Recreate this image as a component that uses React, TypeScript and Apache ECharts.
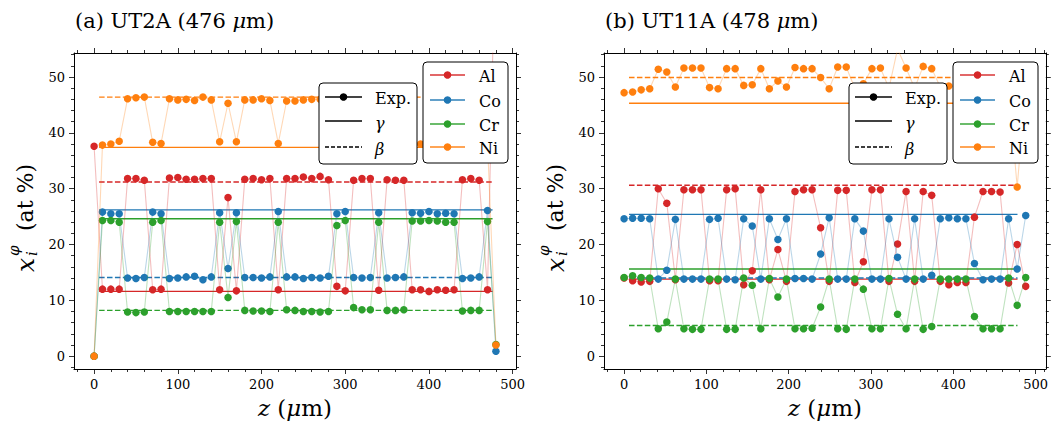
import React, { useEffect, useRef } from "react";
import * as echarts from "echarts";

// ---------- data ----------
const zLeft = [0, 10, 20, 30, 40, 50, 60, 70, 80, 90, 100, 110, 120, 130, 140, 150, 160, 170, 180, 190, 200, 210, 220, 230, 240, 250, 260, 270, 280, 290, 300, 310, 320, 330, 340, 350, 360, 370, 380, 390, 400, 410, 420, 430, 440, 450, 460, 470, 480];
const alLeft = [37.6, 12.0, 12.0, 12.0, 31.8, 31.8, 31.5, 11.9, 12.0, 31.9, 32.0, 31.7, 31.7, 31.8, 31.8, 11.9, 28.4, 11.7, 31.7, 31.8, 31.6, 31.8, 11.9, 31.8, 31.8, 32.1, 31.8, 32.2, 31.6, 12.5, 11.7, 31.5, 31.8, 31.8, 11.8, 31.6, 31.5, 31.5, 11.9, 11.9, 11.6, 11.9, 11.8, 11.9, 31.6, 31.8, 31.5, 11.9, 80.0];
const coLeft = [0.0, 25.8, 25.5, 25.5, 14.0, 13.9, 14.1, 25.8, 25.5, 13.9, 14.0, 14.2, 14.3, 13.7, 14.2, 25.7, 15.7, 25.7, 14.1, 14.1, 14.0, 14.2, 25.9, 14.2, 14.2, 13.9, 14.1, 14.0, 14.3, 25.5, 25.9, 14.1, 14.0, 14.1, 25.7, 14.0, 14.1, 14.2, 25.7, 25.6, 25.9, 25.5, 25.6, 25.5, 13.9, 14.0, 14.2, 26.1, 0.9];
const crLeft = [0.0, 24.3, 24.3, 24.0, 7.9, 7.8, 7.9, 24.0, 24.3, 8.0, 8.0, 8.0, 8.0, 8.0, 8.0, 24.0, 10.5, 24.1, 8.2, 8.1, 8.1, 8.0, 24.0, 8.3, 8.2, 8.0, 8.0, 7.9, 8.0, 23.4, 24.3, 8.7, 8.3, 8.3, 24.0, 8.2, 8.2, 8.3, 24.2, 24.2, 24.3, 24.2, 24.0, 24.0, 8.1, 8.2, 8.2, 24.1, 2.1];
const niLeft = [0.0, 37.8, 38.0, 38.5, 46.1, 46.3, 46.4, 38.3, 38.1, 46.1, 45.9, 46.0, 45.8, 46.4, 45.9, 38.4, 45.3, 38.4, 45.9, 45.9, 46.1, 45.8, 38.1, 45.7, 45.7, 45.9, 46.0, 46.0, 46.1, 38.2, 38.0, 46.0, 45.9, 46.1, 38.2, 46.0, 46.1, 45.9, 38.1, 38.0, 38.1, 37.9, 38.2, 38.1, 46.0, 46.1, 45.9, 38.0, 2.0];

const zRight = [0, 10.38, 20.77, 31.15, 41.53, 51.91, 62.3, 72.68, 83.06, 93.45, 103.83, 114.21, 124.6, 134.98, 145.36, 155.74, 166.13, 176.51, 186.89, 197.28, 207.66, 218.04, 228.43, 238.81, 249.19, 259.57, 269.96, 280.34, 290.72, 301.11, 311.49, 321.87, 332.26, 342.64, 353.02, 363.4, 373.79, 384.17, 394.55, 404.94, 415.32, 425.7, 436.09, 446.47, 456.85, 467.23, 477.62, 488.0];
const alRight = [14.0, 13.5, 13.3, 13.4, 30.0, 27.4, 13.7, 29.8, 29.8, 29.8, 13.5, 13.5, 29.8, 30.0, 12.8, 15.3, 29.8, 13.7, 19.1, 13.4, 29.5, 29.8, 29.8, 23.0, 13.4, 29.7, 29.7, 13.2, 16.9, 29.8, 29.8, 13.4, 20.1, 29.5, 13.4, 29.5, 28.8, 13.4, 12.8, 13.2, 13.2, 24.9, 29.5, 29.5, 29.4, 13.1, 20.0, 12.5];
const coRight = [24.6, 24.7, 24.7, 24.6, 13.8, 15.4, 24.5, 13.8, 13.8, 13.8, 24.5, 24.7, 13.8, 13.7, 24.6, 23.3, 13.8, 24.6, 20.9, 24.6, 13.9, 13.9, 13.8, 18.3, 24.8, 13.8, 13.8, 24.6, 22.4, 13.8, 13.8, 24.6, 17.7, 13.8, 24.6, 13.8, 14.5, 24.6, 24.8, 24.6, 24.6, 16.6, 13.7, 13.8, 13.8, 24.6, 15.6, 25.2];
const crRight = [14.1, 14.4, 14.1, 14.0, 4.9, 6.1, 13.8, 4.9, 4.8, 4.8, 13.8, 13.8, 4.8, 4.8, 14.0, 12.7, 4.9, 13.9, 10.6, 13.8, 4.9, 4.9, 5.0, 8.8, 13.8, 4.9, 4.8, 13.8, 12.0, 4.9, 4.9, 13.9, 7.5, 4.9, 13.8, 4.8, 5.3, 13.8, 13.8, 13.8, 13.8, 7.1, 4.9, 4.9, 4.9, 14.0, 9.1, 14.1];
const niRight = [47.2, 47.3, 47.7, 47.9, 51.4, 50.9, 48.2, 51.6, 51.6, 51.6, 48.1, 47.9, 51.5, 51.5, 48.5, 48.6, 51.5, 47.9, 49.3, 48.2, 51.7, 51.5, 51.5, 49.9, 47.9, 51.8, 51.8, 48.0, 48.8, 51.5, 51.6, 48.0, 55.0, 51.6, 48.0, 51.9, 51.5, 48.2, 48.4, 48.3, 48.1, 50.0, 51.5, 51.6, 51.4, 48.1, 30.3, 48.3];

// phase compositions [Al, Co, Cr, Ni]
const gammaLeft = [11.6, 26.2, 24.6, 37.4];
const betaLeft = [31.2, 14.1, 8.2, 46.4];
const gammaRight = [13.8, 25.4, 15.6, 45.3];
const betaRight = [30.6, 14.0, 5.5, 49.9];
const levelSpanLeft = [6, 476];
const levelSpanRight = [6, 478];

const elements = ["Al", "Co", "Cr", "Ni"];
const colors = ["#d62728", "#1f77b4", "#2ca02c", "#ff7f0e"];

const xMajorTicks = [0, 100, 200, 300, 400, 500];
const xMinorTicks = [-20, 20, 40, 60, 80, 120, 140, 160, 180, 220, 240, 260, 280, 320, 340, 360, 380, 420, 440, 460, 480, 510];
const yMajorTicks = [0, 10, 20, 30, 40, 50];
const yMinorTicks = [-2, 2, 4, 6, 8, 12, 14, 16, 18, 22, 24, 26, 28, 32, 34, 36, 38, 42, 44, 46, 48, 52, 54];

const titles = ["(a) UT2A (476 {m|μ}m)", "(b) UT11A (478 {m|μ}m)"];

const SERIF = "DejaVu Serif";

export default function App() {
  const ref = useRef<HTMLDivElement>(null);
  useEffect(() => {
    if (!ref.current) return;
    const chart = echarts.init(ref.current, null, { renderer: "svg" });

    const grids = [
      { left: 74, top: 53, width: 442, height: 316 },
      { left: 604, top: 53, width: 442, height: 316 },
    ];
    const xRanges = [[-24, 504], [-24.4, 512.4]];
    const yRange = [-2.3, 54.3];

    const xAxes: any[] = [];
    const yAxes: any[] = [];
    const line = { color: "#000", width: 1 };
    grids.forEach((_, g) => {
      const base = { type: "value", gridIndex: g, min: xRanges[g][0], max: xRanges[g][1], splitLine: { show: false } };
      const ybase = { type: "value", gridIndex: g, min: yRange[0], max: yRange[1], splitLine: { show: false } };
      const mk = (b: any, pos: string, major: boolean, labels: boolean, ticks: number[]) => ({
        ...b,
        position: pos,
        axisLine: { show: major, onZero: false, lineStyle: line },
        axisTick: { show: true, inside: false, length: major ? 5 : 3, customValues: ticks, lineStyle: { color: "#000", width: 0.8 } },
        axisLabel: labels
          ? { show: true, customValues: ticks, margin: 9, color: "#000", fontFamily: SERIF, fontSize: 13 }
          : { show: false },
      });
      xAxes.push(mk(base, "bottom", true, true, xMajorTicks));
      xAxes.push(mk(base, "bottom", false, false, xMinorTicks));
      xAxes.push(mk(base, "top", true, false, xMajorTicks));
      xAxes.push(mk(base, "top", false, false, xMinorTicks));
      yAxes.push(mk(ybase, "left", true, true, yMajorTicks));
      yAxes.push(mk(ybase, "left", false, false, yMinorTicks));
      yAxes.push(mk(ybase, "right", true, false, yMajorTicks));
      yAxes.push(mk(ybase, "right", false, false, yMinorTicks));
    });

    const series: any[] = [];
    const panels = [
      { z: zLeft, vals: [alLeft, coLeft, crLeft, niLeft], gamma: gammaLeft, beta: betaLeft, span: levelSpanLeft },
      { z: zRight, vals: [alRight, coRight, crRight, niRight], gamma: gammaRight, beta: betaRight, span: levelSpanRight },
    ];
    panels.forEach((p, g) => {
      const xi = g * 4;
      const yi = g * 4;
      elements.forEach((el, e) => {
        series.push({
          type: "line",
          xAxisIndex: xi,
          yAxisIndex: yi,
          data: [[p.span[0], p.gamma[e]], [p.span[1], p.gamma[e]]],
          symbol: "none",
          lineStyle: { color: colors[e], width: 1.4, type: "solid" },
          z: 2,
          silent: true,
        });
        series.push({
          type: "line",
          xAxisIndex: xi,
          yAxisIndex: yi,
          data: [[p.span[0], p.beta[e]], [p.span[1], p.beta[e]]],
          symbol: "none",
          lineStyle: { color: colors[e], width: 1.4, type: [5.5, 2.4] },
          z: 2,
          silent: true,
        });
      });
      elements.forEach((el, e) => {
        series.push({
          type: "line",
          name: el,
          xAxisIndex: xi,
          yAxisIndex: yi,
          data: p.z.map((x, k) => [x, p.vals[e][k]]),
          symbol: "circle",
          symbolSize: 7.5,
          showAllSymbol: true,
          clip: true,
          itemStyle: { color: colors[e], opacity: 1 },
          lineStyle: { color: colors[e], width: 1.1, opacity: 0.3 },
          z: 3 + e,
        });
      });
    });

    const graphics: any[] = [];
    const dx = [0, 530];
    [0, 1].forEach((g) => {
      const gx = grids[g].left;
      // title
      graphics.push({
        type: "text",
        x: gx + 1,
        y: 21,
        style: {
          text: titles[g],
          fill: "#000",
          font: `21px "${SERIF}"`,
          verticalAlign: "middle",
          align: "left",
          rich: { m: { fontStyle: "italic", fontFamily: SERIF, fontSize: 21 } },
        },
        z: 100,
      });
      // x label
      graphics.push({
        type: "text",
        x: gx + 221,
        y: 408,
        style: {
          text: "{m|z} ({m|μ}m)",
          fill: "#000",
          font: `23px "${SERIF}"`,
          align: "center",
          verticalAlign: "middle",
          rich: { m: { fontStyle: "italic", fontFamily: SERIF, fontSize: 23 } },
        },
        z: 100,
      });
      // y label pieces (rotated)
      const yx = gx - 49;
      graphics.push({
        type: "text", x: yx, y: 272, rotation: Math.PI / 2,
        style: { text: "x", fill: "#000", font: `italic 25px "${SERIF}"`, align: "left", verticalAlign: "middle" }, z: 100,
      });
      graphics.push({
        type: "text", x: yx - 11, y: 256, rotation: Math.PI / 2,
        style: { text: "φ", fill: "#000", font: `italic 15px "${SERIF}"`, align: "left", verticalAlign: "middle" }, z: 100,
      });
      graphics.push({
        type: "text", x: yx + 7, y: 256, rotation: Math.PI / 2,
        style: { text: "i", fill: "#000", font: `italic 15px "${SERIF}"`, align: "left", verticalAlign: "middle" }, z: 100,
      });
      graphics.push({
        type: "text", x: yx, y: 231, rotation: Math.PI / 2,
        style: { text: "(at %)", fill: "#000", font: `22px "${SERIF}"`, align: "left", verticalAlign: "middle" }, z: 100,
      });

      // legend 1
      const o = dx[g];
      graphics.push({
        type: "rect", shape: { x: 319 + o, y: 83, width: 98, height: 81, r: 4 },
        style: { fill: "#fff", stroke: "#000", lineWidth: 1 }, z: 100,
      });
      const rows1 = [97, 121, 147];
      graphics.push({ type: "line", shape: { x1: 325 + o, y1: rows1[0], x2: 362 + o, y2: rows1[0] }, style: { stroke: "#444", lineWidth: 2 }, z: 101 });
      graphics.push({ type: "circle", shape: { cx: 343.5 + o, cy: rows1[0], r: 3.8 }, style: { fill: "#000" }, z: 102 });
      graphics.push({ type: "line", shape: { x1: 325 + o, y1: rows1[1], x2: 362 + o, y2: rows1[1] }, style: { stroke: "#000", lineWidth: 1.3 }, z: 101 });
      graphics.push({ type: "line", shape: { x1: 325 + o, y1: rows1[2], x2: 362 + o, y2: rows1[2] }, style: { stroke: "#000", lineWidth: 1.3, lineDash: [4, 2] }, z: 101 });
      const lab1 = ["Exp.", "γ", "β"];
      lab1.forEach((t, k) => {
        graphics.push({
          type: "text", x: 375 + o, y: rows1[k] + (k === 0 ? 1 : 2),
          style: { text: t, fill: "#000", font: `${k === 0 ? "" : "italic "}16px "${SERIF}"`, align: "left", verticalAlign: "middle" }, z: 102,
        });
      });

      // legend 2
      graphics.push({
        type: "rect", shape: { x: 423 + o, y: 62, width: 85, height: 101, r: 4 },
        style: { fill: "#fff", stroke: "#000", lineWidth: 1 }, z: 100,
      });
      const rows2 = [75, 100, 124, 147];
      elements.forEach((el, k) => {
        graphics.push({ type: "line", shape: { x1: 430 + o, y1: rows2[k], x2: 465 + o, y2: rows2[k] }, style: { stroke: colors[k], lineWidth: 2, opacity: 0.7 }, z: 101 });
        graphics.push({ type: "circle", shape: { cx: 447.5 + o, cy: rows2[k], r: 3.8 }, style: { fill: colors[k] }, z: 102 });
        graphics.push({
          type: "text", x: 479 + o, y: rows2[k] + 1,
          style: { text: el, fill: "#000", font: `16px "${SERIF}"`, align: "left", verticalAlign: "middle" }, z: 102,
        });
      });
    });

    chart.setOption({
      animation: false,
      backgroundColor: "#fff",
      grid: grids,
      xAxis: xAxes,
      yAxis: yAxes,
      series,
      graphic: graphics,
    });
    return () => chart.dispose();
  }, []);
  return <div ref={ref} style={{ position: "fixed", left: 0, top: 0, width: 1051, height: 425 }} />;
}
